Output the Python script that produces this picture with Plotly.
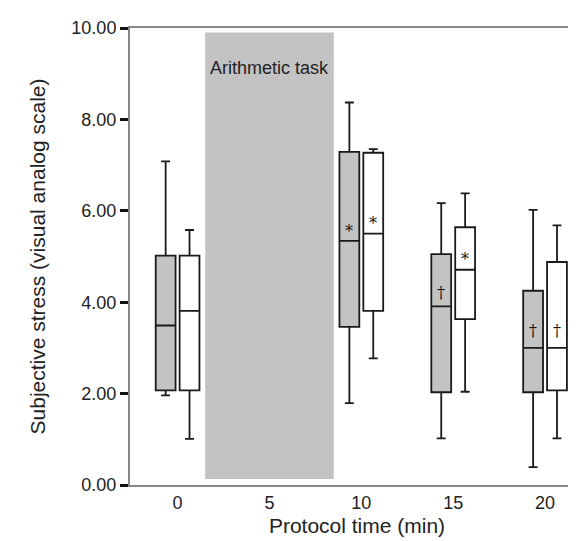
import plotly.graph_objects as go

times = [0, 10, 15, 20]
x_ticks = [0, 5, 10, 15, 20]
y_ticks = [0, 2, 4, 6, 8, 10]

# Group A (grey boxes)
grey_low = [1.96, 1.79, 1.02, 0.39]
grey_q1 = [2.07, 3.46, 2.03, 2.03]
grey_med = [3.49, 5.34, 3.91, 3.00]
grey_q3 = [5.02, 7.29, 5.05, 4.25]
grey_high = [7.08, 8.37, 6.17, 6.02]

# Group B (white boxes)
white_low = [1.01, 2.77, 2.04, 1.02]
white_q1 = [2.07, 3.81, 3.63, 2.07]
white_med = [3.81, 5.50, 4.71, 3.00]
white_q3 = [5.02, 7.27, 5.64, 4.88]
white_high = [5.58, 7.35, 6.38, 5.68]

# significance marks: (time, group, symbol, y)
marks_t = [10, 10, 15, 15, 20, 20]
marks_g = ["grey", "white", "grey", "white", "grey", "white"]
marks_s = ["*", "*", "†", "*", "†", "†"]
marks_y = [5.55, 5.72, 4.22, 4.94, 3.38, 3.38]

task_start, task_end = 1.5, 8.5

off = 0.65
bw = 1.08

fig = go.Figure()

fig.add_shape(type="rect", x0=task_start, x1=task_end, y0=0.13, y1=9.9,
              fillcolor="#c3c3c3", line=dict(width=0), layer="below")

fig.add_trace(go.Box(
    x=[t - off for t in times], q1=grey_q1, median=grey_med, q3=grey_q3,
    lowerfence=grey_low, upperfence=grey_high,
    fillcolor="#c3c3c3", line=dict(color="#1a1a1a", width=1.8),
    width=bw, whiskerwidth=0.45, boxpoints=False, showlegend=False,
    hoverinfo="skip"))
fig.add_trace(go.Box(
    x=[t + off for t in times], q1=white_q1, median=white_med, q3=white_q3,
    lowerfence=white_low, upperfence=white_high,
    fillcolor="#ffffff", line=dict(color="#1a1a1a", width=1.8),
    width=bw, whiskerwidth=0.45, boxpoints=False, showlegend=False,
    hoverinfo="skip"))

for t, g, s, y in zip(marks_t, marks_g, marks_s, marks_y):
    fig.add_annotation(x=t - off if g == "grey" else t + off, y=y, text=s,
                       showarrow=False,
                       font=dict(family="DejaVu Serif", size=16, color="#111111"))

fig.add_annotation(x=(task_start + task_end) / 2, y=9.12, text="Arithmetic task",
                   showarrow=False,
                   font=dict(family="Liberation Sans", size=18, color="#222222"))

fig.update_layout(
    width=576, height=541,
    margin=dict(l=122, r=0, t=20, b=64),
    paper_bgcolor="white", plot_bgcolor="white",
    font=dict(family="Liberation Sans", size=18, color="#222222"),
    boxmode="overlay",
)
fig.update_xaxes(
    range=[-2.59, 22.12], tickvals=x_ticks, ticktext=[str(v) for v in x_ticks],
    showgrid=False, zeroline=False, showline=True, linecolor="#888888",
    linewidth=2, mirror=True, ticks="", tickfont=dict(size=18),
    title=dict(text="Protocol time (min)", font=dict(size=21), standoff=7),
)
fig.update_yaxes(
    range=[0, 10], tickvals=y_ticks, ticktext=[f"{v:.2f}" for v in y_ticks],
    showgrid=False, zeroline=False, showline=True, linecolor="#888888",
    linewidth=2, ticks="outside", ticklen=8, tickwidth=2.5, tickcolor="#111111",
    tickfont=dict(size=18),
    title=dict(text="Subjective stress (visual analog scale)", font=dict(size=21), standoff=20),
)

fig.write_html("out.html")
